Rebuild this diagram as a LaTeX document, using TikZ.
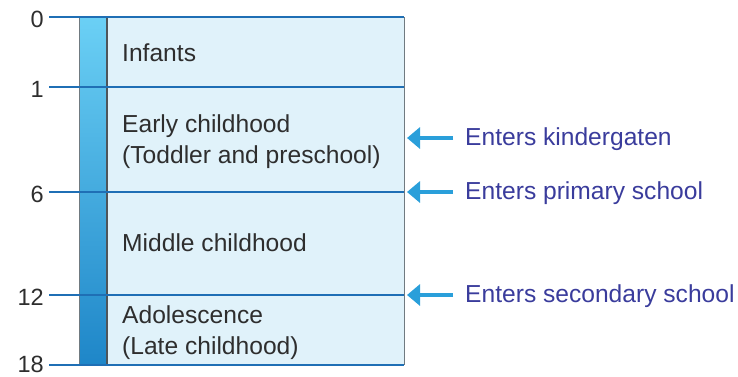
\documentclass[tikz,border=0pt]{standalone}
\usepackage{fontspec}
\setmainfont{Liberation Sans}
\usetikzlibrary{arrows.meta}
\definecolor{linecol}{HTML}{1F6FB5}
\definecolor{boxfill}{HTML}{E0F2FA}
\definecolor{bartop}{HTML}{6BD0F5}
\definecolor{barbot}{HTML}{1E86C8}
\definecolor{edgegray}{HTML}{707A80}
\definecolor{txtgray}{HTML}{2E2E2E}
\definecolor{arrcol}{HTML}{2A9FDA}
\definecolor{labcol}{HTML}{3A3C9C}
\tikzset{
  agetext/.style={font=\fontsize{24.6}{30}\selectfont, text=txtgray, inner sep=0pt, anchor=base west},
  numtext/.style={font=\fontsize{23.5}{28}\selectfont, text=txtgray, inner sep=0pt, anchor=base east},
  evtext/.style={font=\fontsize{24.6}{30}\selectfont, text=labcol, inner sep=0pt, anchor=base west},
  tickline/.style={draw=linecol, line width=1.4pt},
  evarrow/.style={draw=arrcol, line width=4pt, -{Triangle[length=13pt,width=21pt]}}
}
\begin{document}
\begin{tikzpicture}[x=1pt,y=-1pt]
\useasboundingbox (0,0) rectangle (738,376);
% box and bar
\fill[boxfill] (107,17) rectangle (404,365);
\shade[top color=bartop, bottom color=barbot] (79,17) rectangle (107,365);
\draw[edgegray, line width=1pt] (79,17) -- (79,365);
\draw[edgegray!70!black, line width=1.2pt] (107,17) -- (107,365);
\draw[edgegray, line width=1pt] (404,17) -- (404,365);
% tick lines
\foreach \yy in {17,87,192,295,365} {
  \draw[tickline] (49,\yy) -- (404,\yy);
}
% numbers
\node[numtext] (n0) at (44,27) {0};
\node[numtext] (n1) at (44,97) {1};
\node[numtext] (n6) at (44,202) {6};
\node[numtext] (n12) at (44,305) {12};
\node[numtext] (n18) at (44,372) {18};
% stage labels
\node[agetext] (inf) at (122,61) {Infants};
\node[agetext] (ec1) at (122,132) {Early childhood};
\node[agetext] (ec2) at (122,163) {(Toddler and preschool)};
\node[agetext] (mid) at (122,251) {Middle childhood};
\node[agetext] (ad1) at (122,323) {Adolescence};
\node[agetext] (ad2) at (122,354) {(Late childhood)};
% events
\node[evtext] (e1) at (465,145) {Enters kindergaten};
\node[evtext] (e2) at (465,199) {Enters primary school};
\node[evtext] (e3) at (465,302) {Enters secondary school};
\coordinate (t1) at (407,138);
\coordinate (t2) at (407,192);
\coordinate (t3) at (407,295);
\coordinate (s1) at (453,138);
\coordinate (s2) at (453,192);
\coordinate (s3) at (453,295);
\draw[evarrow] (s1) -- (t1);
\draw[evarrow] (s2) -- (t2);
\draw[evarrow] (s3) -- (t3);
\end{tikzpicture}
\end{document}
